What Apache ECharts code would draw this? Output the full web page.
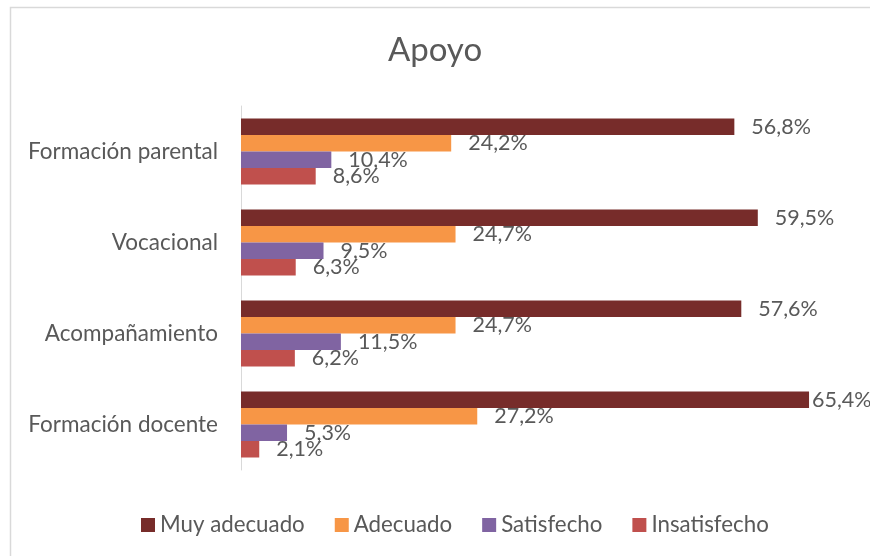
<!DOCTYPE html>
<html>
<head>
<meta charset="utf-8">
<script src="https://cdn.jsdelivr.net/npm/echarts@6/dist/echarts.min.js"></script>
<style>html,body{margin:0;padding:0;background:#fff;}#c{width:870px;height:556px;}</style>
</head>
<body>
<div id="c"></div>
<script>
const categories = ['Formación parental', 'Vocacional', 'Acompañamiento', 'Formación docente'];
const seriesNames = ['Muy adecuado', 'Adecuado', 'Satisfecho', 'Insatisfecho'];
const muyAdecuado = [56.8, 59.5, 57.6, 65.4];
const adecuado = [24.2, 24.7, 24.7, 27.2];
const satisfecho = [10.4, 9.5, 11.5, 5.3];
const insatisfecho = [8.6, 6.3, 6.2, 2.1];
const colors = ['#772C2A', '#F79646', '#8064A2', '#C0504D'];

const FONT = 'Lato';
const allValues = [muyAdecuado, adecuado, satisfecho, insatisfecho];
const globalMax = Math.max(...allValues.flat());

const series = allValues.map((vals, i) => ({
  name: seriesNames[i],
  type: 'bar',
  barWidth: 16.5,
  barGap: '0%',
  itemStyle: { color: colors[i] },
  data: vals.map(v => ({
    value: v,
    label: { distance: v === globalMax ? 3 : 17 }
  })),
  label: {
    show: true,
    position: 'right',
    color: '#595959',
    fontFamily: FONT,
    fontSize: 21.5,
    formatter: p => p.value.toFixed(1).replace('.', ',') + '%'
  }
}));

const chart = echarts.init(document.getElementById('c'), null, { renderer: 'canvas' });
chart.setOption({
  animation: false,
  color: colors,
  title: {
    text: 'Apoyo',
    left: 'center',
    top: 29,
    textStyle: { color: '#595959', fontFamily: FONT, fontSize: 33, fontWeight: 'normal' }
  },
  graphic: [{
    type: 'rect',
    shape: { x: 10.5, y: 7.5, width: 880, height: 560 },
    style: { fill: null, stroke: '#D9D9D9', lineWidth: 1.5 },
    silent: true
  }],
  legend: {
    top: 509,
    left: 136,
    itemWidth: 14,
    itemHeight: 14,
    itemGap: 30,
    icon: 'rect',
    textStyle: { color: '#595959', fontFamily: FONT, fontSize: 22.3 },
    data: seriesNames
  },
  grid: { left: 241, right: 21, top: 106, bottom: 86, containLabel: false },
  xAxis: {
    type: 'value',
    min: 0,
    max: 70,
    show: false
  },
  yAxis: {
    type: 'category',
    data: categories,
    inverse: true,
    axisLine: { show: true, lineStyle: { color: '#D9D9D9', width: 1 } },
    axisTick: { show: false },
    axisLabel: { color: '#595959', fontFamily: FONT, fontSize: 22.5, margin: 23 }
  },
  series: series
});
</script>
</body>
</html>
